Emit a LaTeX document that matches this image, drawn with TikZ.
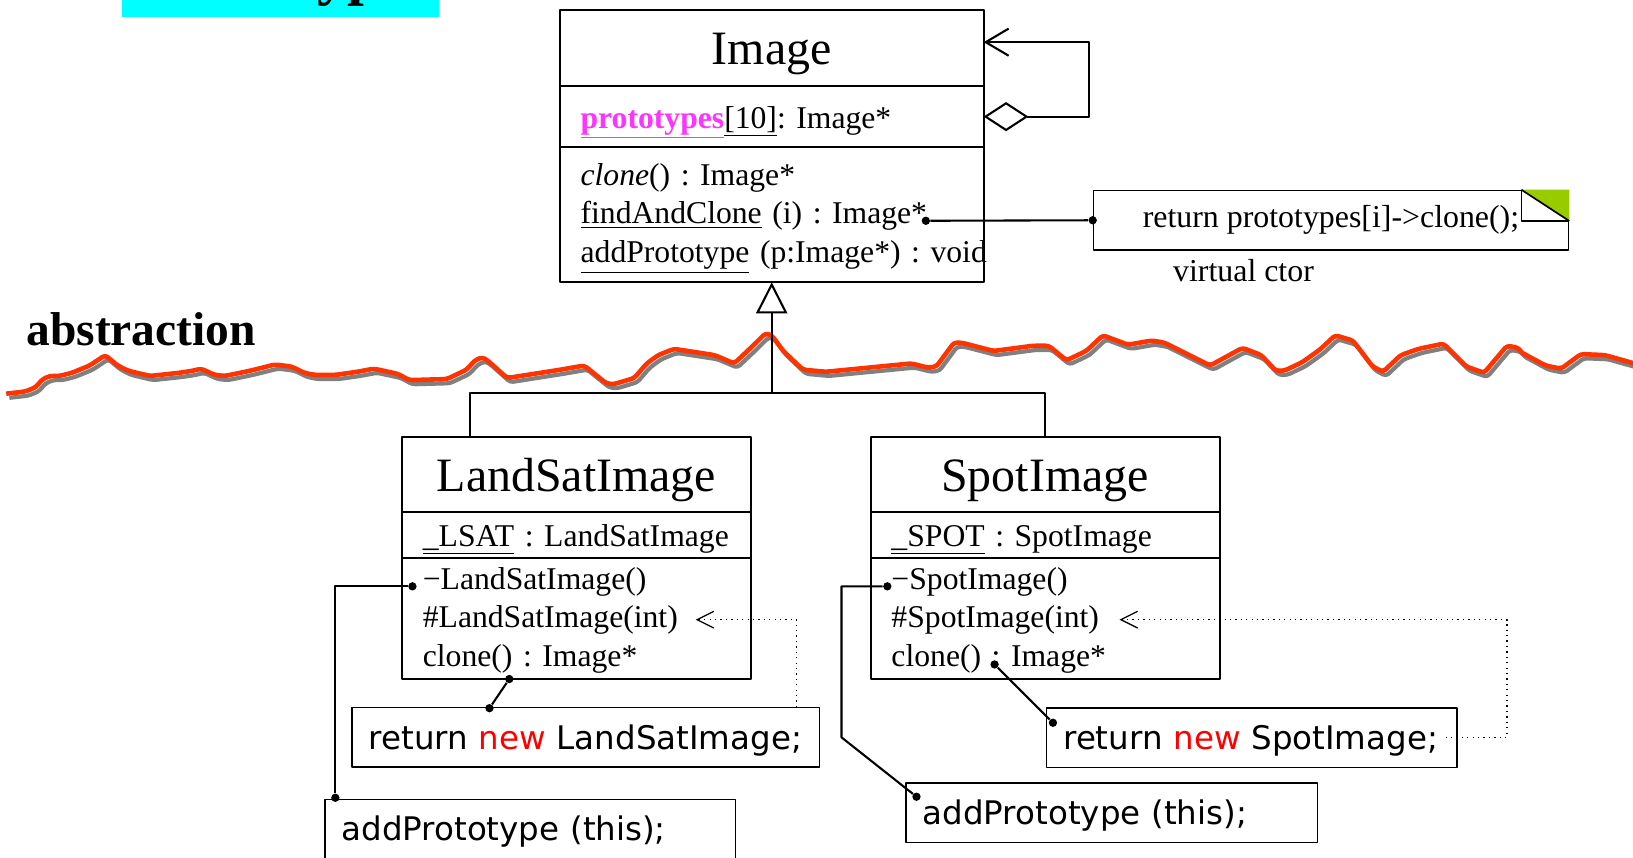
\documentclass[tikz,border=0pt]{standalone}
\usepackage{fontspec}
\setmainfont{Liberation Serif}
\newfontfamily\codefont{DejaVu Sans}
\usetikzlibrary{arrows.meta,positioning,calc}
\frenchspacing

\definecolor{protomag}{HTML}{FF33FF}
\definecolor{wavered}{HTML}{FF3300}
\definecolor{waveshade}{HTML}{808080}
\definecolor{notegreen}{HTML}{99CC00}
\definecolor{titlecyan}{HTML}{00FFFF}
\definecolor{kwred}{HTML}{FF0000}

\newcommand{\kw}[1]{\textcolor{kwred}{#1}}
% the abstraction border
\newcommand{\wavepath}{(6,378) -- (24,376) -- (34,372) -- (41,364) -- (48,361) -- (57,361) -- (69,358) -- (86,351) -- (101,341) -- (113,351) -- (123,356) -- (144,361) -- (172,358) -- (185,356) -- (193,354) -- (206,360) -- (216,361) -- (240,356) -- (264,350) -- (280,352) -- (292,358) -- (302,360) -- (322,360) -- (343,357) -- (359,354) -- (382,359) -- (393,365) -- (429,364) -- (448,355) -- (456,346) -- (463,343) -- (468,346) -- (487,363) -- (538,355) -- (561,351) -- (582,368) -- (589,369) -- (609,363) -- (621,349) -- (632,341) -- (647,335) -- (686,341) -- (705,349) -- (724,331) -- (735,320) -- (741,322) -- (752,337) -- (771,355) -- (793,357) -- (875,349) -- (891,353) -- (899,352) -- (916,329) -- (923,329) -- (954,337) -- (992,332) -- (1007,332) -- (1024,346) -- (1043,337) -- (1059,322) -- (1083,331) -- (1106,327) -- (1118,329) -- (1162,351) -- (1193,334) -- (1211,341) -- (1225,356) -- (1233,356) -- (1250,348) -- (1267,336) -- (1282,322) -- (1299,327) -- (1318,352) -- (1328,357) -- (1345,341) -- (1362,335) -- (1386,330) -- (1408,352) -- (1425,358) -- (1447,332) -- (1458,334) -- (1460,338) -- (1484,351) -- (1499,354) -- (1518,340) -- (1541,341) -- (1580,352)}

\begin{document}
\begin{tikzpicture}[
  x=0.5pt, y=-0.5pt,
  line join=round,
  clsname/.style={draw, line width=1pt, inner sep=0pt, outer sep=0pt, minimum height=36pt,
    text height=17pt, text depth=1.5pt, font=\fontsize{23}{27}\selectfont},
  clsbody/.style={draw, line width=1pt, inner xsep=10pt, inner ysep=1pt, outer sep=0pt, align=left,
    font=\fontsize{15.2}{18.5}\selectfont},
  clsattr/.style={clsbody, text height=12pt, text depth=1pt},
  clsops/.style={clsbody, text height=11pt, text depth=39pt},
  codebox/.style={draw, line width=0.7pt, inner xsep=8pt, inner ysep=1pt, minimum height=28.5pt, align=left,
    text height=12pt, text depth=0.5pt, font=\codefont\fontsize{15.6}{18}\selectfont},
  notebox/.style={draw, line width=0.8pt, inner sep=0pt, minimum width=228pt, minimum height=28.5pt, font=\fontsize{15.3}{18}\selectfont},
  dot/.style={circle, fill=black, inner sep=0pt, minimum size=4pt},
  link/.style={line width=1pt},
  usage/.style={line width=0.6pt, dotted, -{Straight Barb[length=8pt, width=8pt]}},
]
\useasboundingbox (0,0) rectangle (1568,823);
\clip (0,0) rectangle (1568,823);

% title (cut off by the page top)
\fill[titlecyan] (117,-20) rectangle (422,16);
\node[font=\bfseries\fontsize{29}{32}\selectfont, anchor=base] (title) at (270,-6) {Prototype};

% abstraction border
\node[font=\bfseries\fontsize{22.8}{26}\selectfont, anchor=base west, inner sep=0pt] (abstr) at (25,332) {abstraction};
\draw[waveshade, line width=2pt, rounded corners=1.5pt, shift={(3,4)}] \wavepath;
\draw[wavered, line width=2.2pt, rounded corners=1.5pt] \wavepath;

% Image
\node[clsname, minimum width=203.5pt, minimum height=36.5pt] (img) at (741,46.5) {Image};
\node[clsattr, text width=183.5pt, minimum height=29pt, below=0pt of img] (imgattr)
  {\textcolor{protomag}{\underline{\textbf{prototypes}}}\underline{[10]}: Image*};
\node[clsops, text width=183.5pt, minimum height=65pt, below=0pt of imgattr] (imgops)
  {\textit{clone}() : Image*\\
   \underline{findAndClone} (i) : Image*\\
   \mbox{\underline{addPrototype} (p:Image*) : void}};

% LandSatImage
\node[clsname, minimum width=167.5pt] (lsname) at (553.5,456) {LandSatImage};
\node[clsattr, text width=147.5pt, minimum height=22pt, below=0pt of lsname] (lsattr)
  {\mbox{\underline{\_LSAT} : LandSatImage}};
\node[clsops, text width=147.5pt, minimum height=58pt, below=0pt of lsattr] (lsops)
  {−LandSatImage()\\ \#LandSatImage(int)\\ clone() : Image*};

% SpotImage
\node[clsname, minimum width=167.5pt] (spname) at (1003.5,456) {SpotImage};
\node[clsattr, text width=147.5pt, minimum height=22pt, below=0pt of spname] (spattr)
  {\mbox{\underline{\_SPOT} : SpotImage}};
\node[clsops, text width=147.5pt, minimum height=58pt, below=0pt of spattr] (spops)
  {−SpotImage()\\ \#SpotImage(int)\\ clone() : Image*};

% note on findAndClone
\node[notebox] (vnote) at (1278,211.5) {return prototypes[i]->clone();};
\fill[notegreen] ($(vnote.north east)+(-46,0)$) -- (vnote.north east) -- ($(vnote.north east)+(0,30)$) -- cycle;
\draw[line width=0.5pt] ($(vnote.north east)+(-46,0)$) |- ($(vnote.north east)+(0,30)$);
\draw[line width=0.8pt] ($(vnote.north east)+(-46,0)$) -- ($(vnote.north east)+(0,30)$);
\node[font=\fontsize{15.3}{18}\selectfont] (vctor) at (1194,260) {virtual ctor};

% code boxes
\node[codebox, text width=208.5pt] (lsret) at (562.5,708) {return \kw{new} LandSatImage;};
\node[codebox, text width=181pt] (lsadd) at (509,796) {addPrototype (this);};
\node[codebox, text width=181pt] (spret) at (1202,708.5) {return \kw{new} SpotImage;};
\node[codebox, text width=181.5pt] (spadd) at (1067.5,780.5) {addPrototype (this);};

% dots
\node[dot] (facdot) at (889,212) {};
\node[dot] (notedot) at (vnote.west) {};
\node[dot] (lsnewdot) at (396,563) {};
\node[dot] (lsadddot) at (322,766) {};
\node[dot] (lsclonedot) at (489,652) {};
\node[dot] (lsretdot) at (470,680) {};
\node[dot] (spnewdot) at (852,563) {};
\node[dot] (spadddot) at (880,765) {};
\node[dot] (spclonedot) at (955,638) {};
\node[dot] (spretdot) at (1011,694) {};
\coordinate (spbend) at (808,708);
\coordinate (lsctor) at (668,595);
\coordinate (lsusage) at (765,679);
\coordinate (spctor) at (1075,595);
\coordinate (spusage) at (1388,708);
\coordinate (gen) at (741,377);

% aggregation and generalisation
\draw[link, {Diamond[open, length=21.5pt, width=14pt]}-{Straight Barb[length=11pt, width=13pt]}]
  (imgattr.east) -- ++(101,0) |- ($(img.east)+(0,-6)$);
\draw[link, -{Triangle[open, length=15pt, width=15pt]}] (gen) -- (imgops.south);
\draw[link] ($(lsname.north west)+(65,0)$) |- (gen) -| (spname.north);

% links to notes
\draw[link] (facdot) -- (notedot);
\draw[link] (lsnewdot) -| (lsadddot);
\draw[link] (lsclonedot) -- (lsretdot);
\draw[link] (spnewdot) -| (spbend) -- (spadddot);
\draw[link] (spclonedot) -- (spretdot);
\draw[usage] (lsusage) |- (lsctor);
\draw[usage] (spusage) -- ++(59,0) |- (spctor);

\end{tikzpicture}
\end{document}
